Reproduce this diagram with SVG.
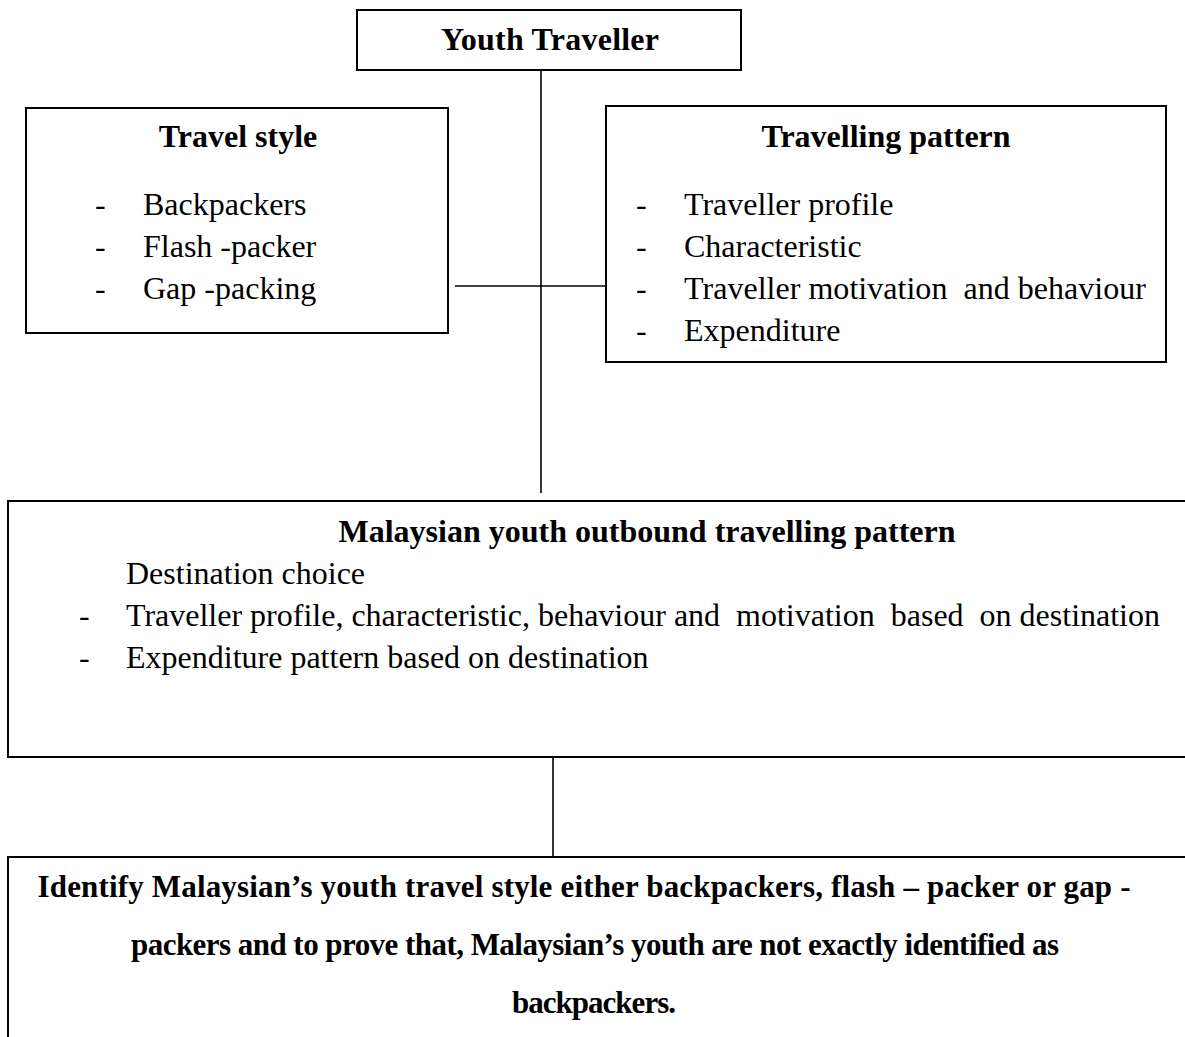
<svg xmlns="http://www.w3.org/2000/svg" width="1185" height="1037" viewBox="0 0 1185 1037">
<style>
.box{fill:#fff;stroke:#000;stroke-width:2}
.t{font-family:"Liberation Serif","Times New Roman",serif;font-size:32px;fill:#000}
.s{font-size:31px}
.b{font-weight:bold}
.c{text-anchor:middle}
.ln{stroke:#000;stroke-width:1.6;fill:none}
</style>
<rect width="1185" height="1037" fill="#fff"/>
<g id="connectors">
<line class="ln" x1="541" y1="65" x2="541" y2="493"/>
<line class="ln" x1="455" y1="286" x2="606" y2="286"/>
<line class="ln" x1="553" y1="757" x2="553" y2="857"/>
</g>
<g id="youth-traveller">
<rect class="box" x="357" y="10" width="384" height="60"/>
<text class="t b c" x="550" y="50" textLength="218">Youth Traveller</text>
</g>
<g id="travel-style">
<rect class="box" x="26" y="108" width="422" height="225"/>
<text class="t b c" x="238" y="147">Travel style</text>
<text class="t" x="95" y="215">-</text><text class="t" x="143" y="215">Backpackers</text>
<text class="t" x="95" y="257">-</text><text class="t" x="143" y="257">Flash -packer</text>
<text class="t" x="95" y="299">-</text><text class="t" x="143" y="299">Gap -packing</text>
</g>
<g id="travelling-pattern">
<rect class="box" x="606" y="106" width="560" height="256"/>
<text class="t b c" x="886" y="147">Travelling pattern</text>
<text class="t" x="636" y="215">-</text><text class="t" x="684" y="215">Traveller profile</text>
<text class="t" x="636" y="257">-</text><text class="t" x="684" y="257">Characteristic</text>
<text class="t" x="636" y="299">-</text><text class="t" x="684" y="299" xml:space="preserve" textLength="462">Traveller motivation  and behaviour</text>
<text class="t" x="636" y="341">-</text><text class="t" x="684" y="341">Expenditure</text>
</g>
<g id="malaysian-pattern">
<rect class="box" x="8" y="501" width="1190" height="256"/>
<text class="t b c" x="647" y="542">Malaysian youth outbound travelling pattern</text>
<text class="t" x="126" y="584">Destination choice</text>
<text class="t" x="79" y="626">-</text><text class="t" x="126" y="626" xml:space="preserve" textLength="1034">Traveller profile, characteristic, behaviour and  motivation  based  on destination</text>
<text class="t" x="79" y="668">-</text><text class="t" x="126" y="668">Expenditure pattern based on destination</text>
</g>
<g id="identify">
<rect class="box" x="8" y="857" width="1190" height="200"/>
<text class="t s b c" x="584" y="897" textLength="1093">Identify Malaysian’s youth travel style either backpackers, flash – packer or gap -</text>
<text class="t s b c" x="595" y="955" textLength="928">packers and to prove that, Malaysian’s youth are not exactly identified as</text>
<text class="t s b c" x="594" y="1013" textLength="164">backpackers.</text>
</g>
</svg>
